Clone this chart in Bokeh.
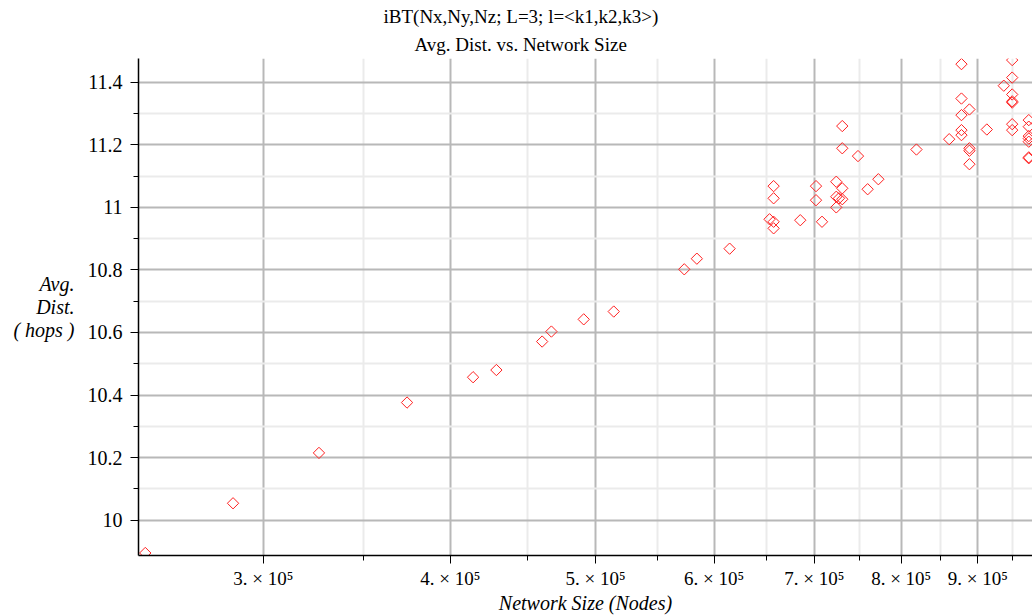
import math
from bokeh.plotting import figure
from bokeh.models import FixedTicker, Range1d, Title
from bokeh.embed import file_html
from bokeh.resources import INLINE

# ---- data ----
network_size = [
    250200, 286350, 326800, 374200, 414200, 429300, 460600, 467200, 491000, 514200,
    573100, 584300, 614500, 657500, 657500, 653400, 657500, 657500, 685000, 701800,
    701800, 708300, 724000, 730700, 724000, 727000, 730700, 724000, 730700, 730700,
    748600, 759800, 772400, 819000, 861300, 877700, 877700, 877700, 888500, 877700,
    877700, 888500, 888500, 888500, 912600, 936700, 948900, 948900, 948900, 948900,
    948900, 948900, 948900, 973400, 973400, 973400, 973400, 973400, 973400, 973400,
]
avg_dist = [
    9.895, 10.054, 10.215, 10.376, 10.457, 10.480, 10.571, 10.603, 10.642, 10.667,
    10.802, 10.836, 10.868, 11.068, 11.029, 10.962, 10.954, 10.933, 10.959, 11.068,
    11.023, 10.954, 11.082, 11.061, 11.034, 11.029, 11.026, 11.000, 11.260, 11.189,
    11.164, 11.058, 11.090, 11.185, 11.218, 11.458, 11.348, 11.295, 11.313, 11.247,
    11.231, 11.189, 11.181, 11.138, 11.249, 11.389, 11.471, 11.415, 11.361, 11.335,
    11.339, 11.266, 11.247, 11.279, 11.258, 11.228, 11.220, 11.210, 11.157, 11.160,
]

x_ticks = [300000, 400000, 500000, 600000, 700000, 800000, 900000]
x_tick_labels = ["3. \u00d7 10\u2075", "4. \u00d7 10\u2075", "5. \u00d7 10\u2075",
                 "6. \u00d7 10\u2075", "7. \u00d7 10\u2075", "8. \u00d7 10\u2075",
                 "9. \u00d7 10\u2075"]
x_minor_ticks = [350000, 450000, 550000, 650000, 750000, 850000, 950000]

y_ticks = [10.0, 10.2, 10.4, 10.6, 10.8, 11.0, 11.2, 11.4]
y_tick_labels = ["10", "10.2", "10.4", "10.6", "10.8", "11", "11.2", "11.4"]
y_minor_ticks = [10.1, 10.3, 10.5, 10.7, 10.9, 11.1, 11.3]

title_lines = ["iBT(Nx,Ny,Nz; L=3; l=<k1,k2,k3>)", "Avg. Dist. vs. Network Size"]
x_label = "Network Size (Nodes)"
y_label = "Avg.\nDist.\n( hops )"

FONT = "Liberation Serif"

p = figure(width=1032, height=616, x_axis_type="log",
           x_range=Range1d(247610, 979000), y_range=Range1d(9.887, 11.476),
           output_backend="svg", toolbar_location=None, title=None,
           min_border_left=138, min_border_right=0, min_border_top=58,
           min_border_bottom=60)
p.outline_line_color = None
p.background_fill_color = "white"
p.border_fill_color = "white"

p.xaxis.ticker = FixedTicker(ticks=x_ticks, minor_ticks=x_minor_ticks)
p.yaxis.ticker = FixedTicker(ticks=y_ticks, minor_ticks=y_minor_ticks)
p.xaxis.major_label_overrides = {t: s for t, s in zip(x_ticks, x_tick_labels)}
p.yaxis.major_label_overrides = {t: s for t, s in zip(y_ticks, y_tick_labels)}

for ax in (p.xaxis, p.yaxis):
    ax.axis_line_color = "black"
    ax.axis_line_width = 1.5
    ax.major_tick_line_color = "black"
    ax.minor_tick_line_color = "black"
    ax.major_tick_in = 0
    ax.major_tick_out = 8
    ax.minor_tick_in = 0
    ax.minor_tick_out = 5
    ax.major_label_text_font = FONT
    ax.major_label_text_color = "black"
    ax.axis_label_text_font = FONT
    ax.axis_label_text_font_style = "italic"
    ax.axis_label_text_color = "black"

p.xaxis.major_label_text_font_size = "19px"
p.yaxis.major_label_text_font_size = "20px"
p.xaxis.axis_label_text_font_size = "20px"
p.yaxis.axis_label_text_font_size = "20px"

p.xaxis.major_label_standoff = 4
p.yaxis.major_label_standoff = 8
p.xaxis.axis_label = x_label
p.xaxis.axis_label_standoff = 0

yax = p.yaxis[0]
yax.axis_label = y_label
if "axis_label_orientation" in yax.properties():
    yax.axis_label_orientation = "horizontal"
yax.axis_label_text_align = "left"
yax.axis_label_text_line_height = 1.05
yax.axis_label_standoff = 10

for g in (p.xgrid, p.ygrid):
    g.grid_line_color = "#b8b8b8"
    g.grid_line_width = 2
    g.minor_grid_line_color = "#ebebeb"
    g.minor_grid_line_width = 2

p.scatter(network_size, avg_dist, marker="square", angle=math.pi / 4,
          size=8, fill_color=None, line_color="#ff2020", line_width=1)

# two-line title: inner line first (closest to the frame)
title_offsets = [245, 276]
title_standoffs = [2, 8]
for t, off, so in reversed(list(zip(title_lines, title_offsets, title_standoffs))):
    p.add_layout(Title(text=t, align="left", offset=off, text_font=FONT,
                       text_font_size="19px", text_font_style="normal",
                       text_color="black", standoff=so), "above")

open("out.html", "w").write(file_html(p, INLINE))
